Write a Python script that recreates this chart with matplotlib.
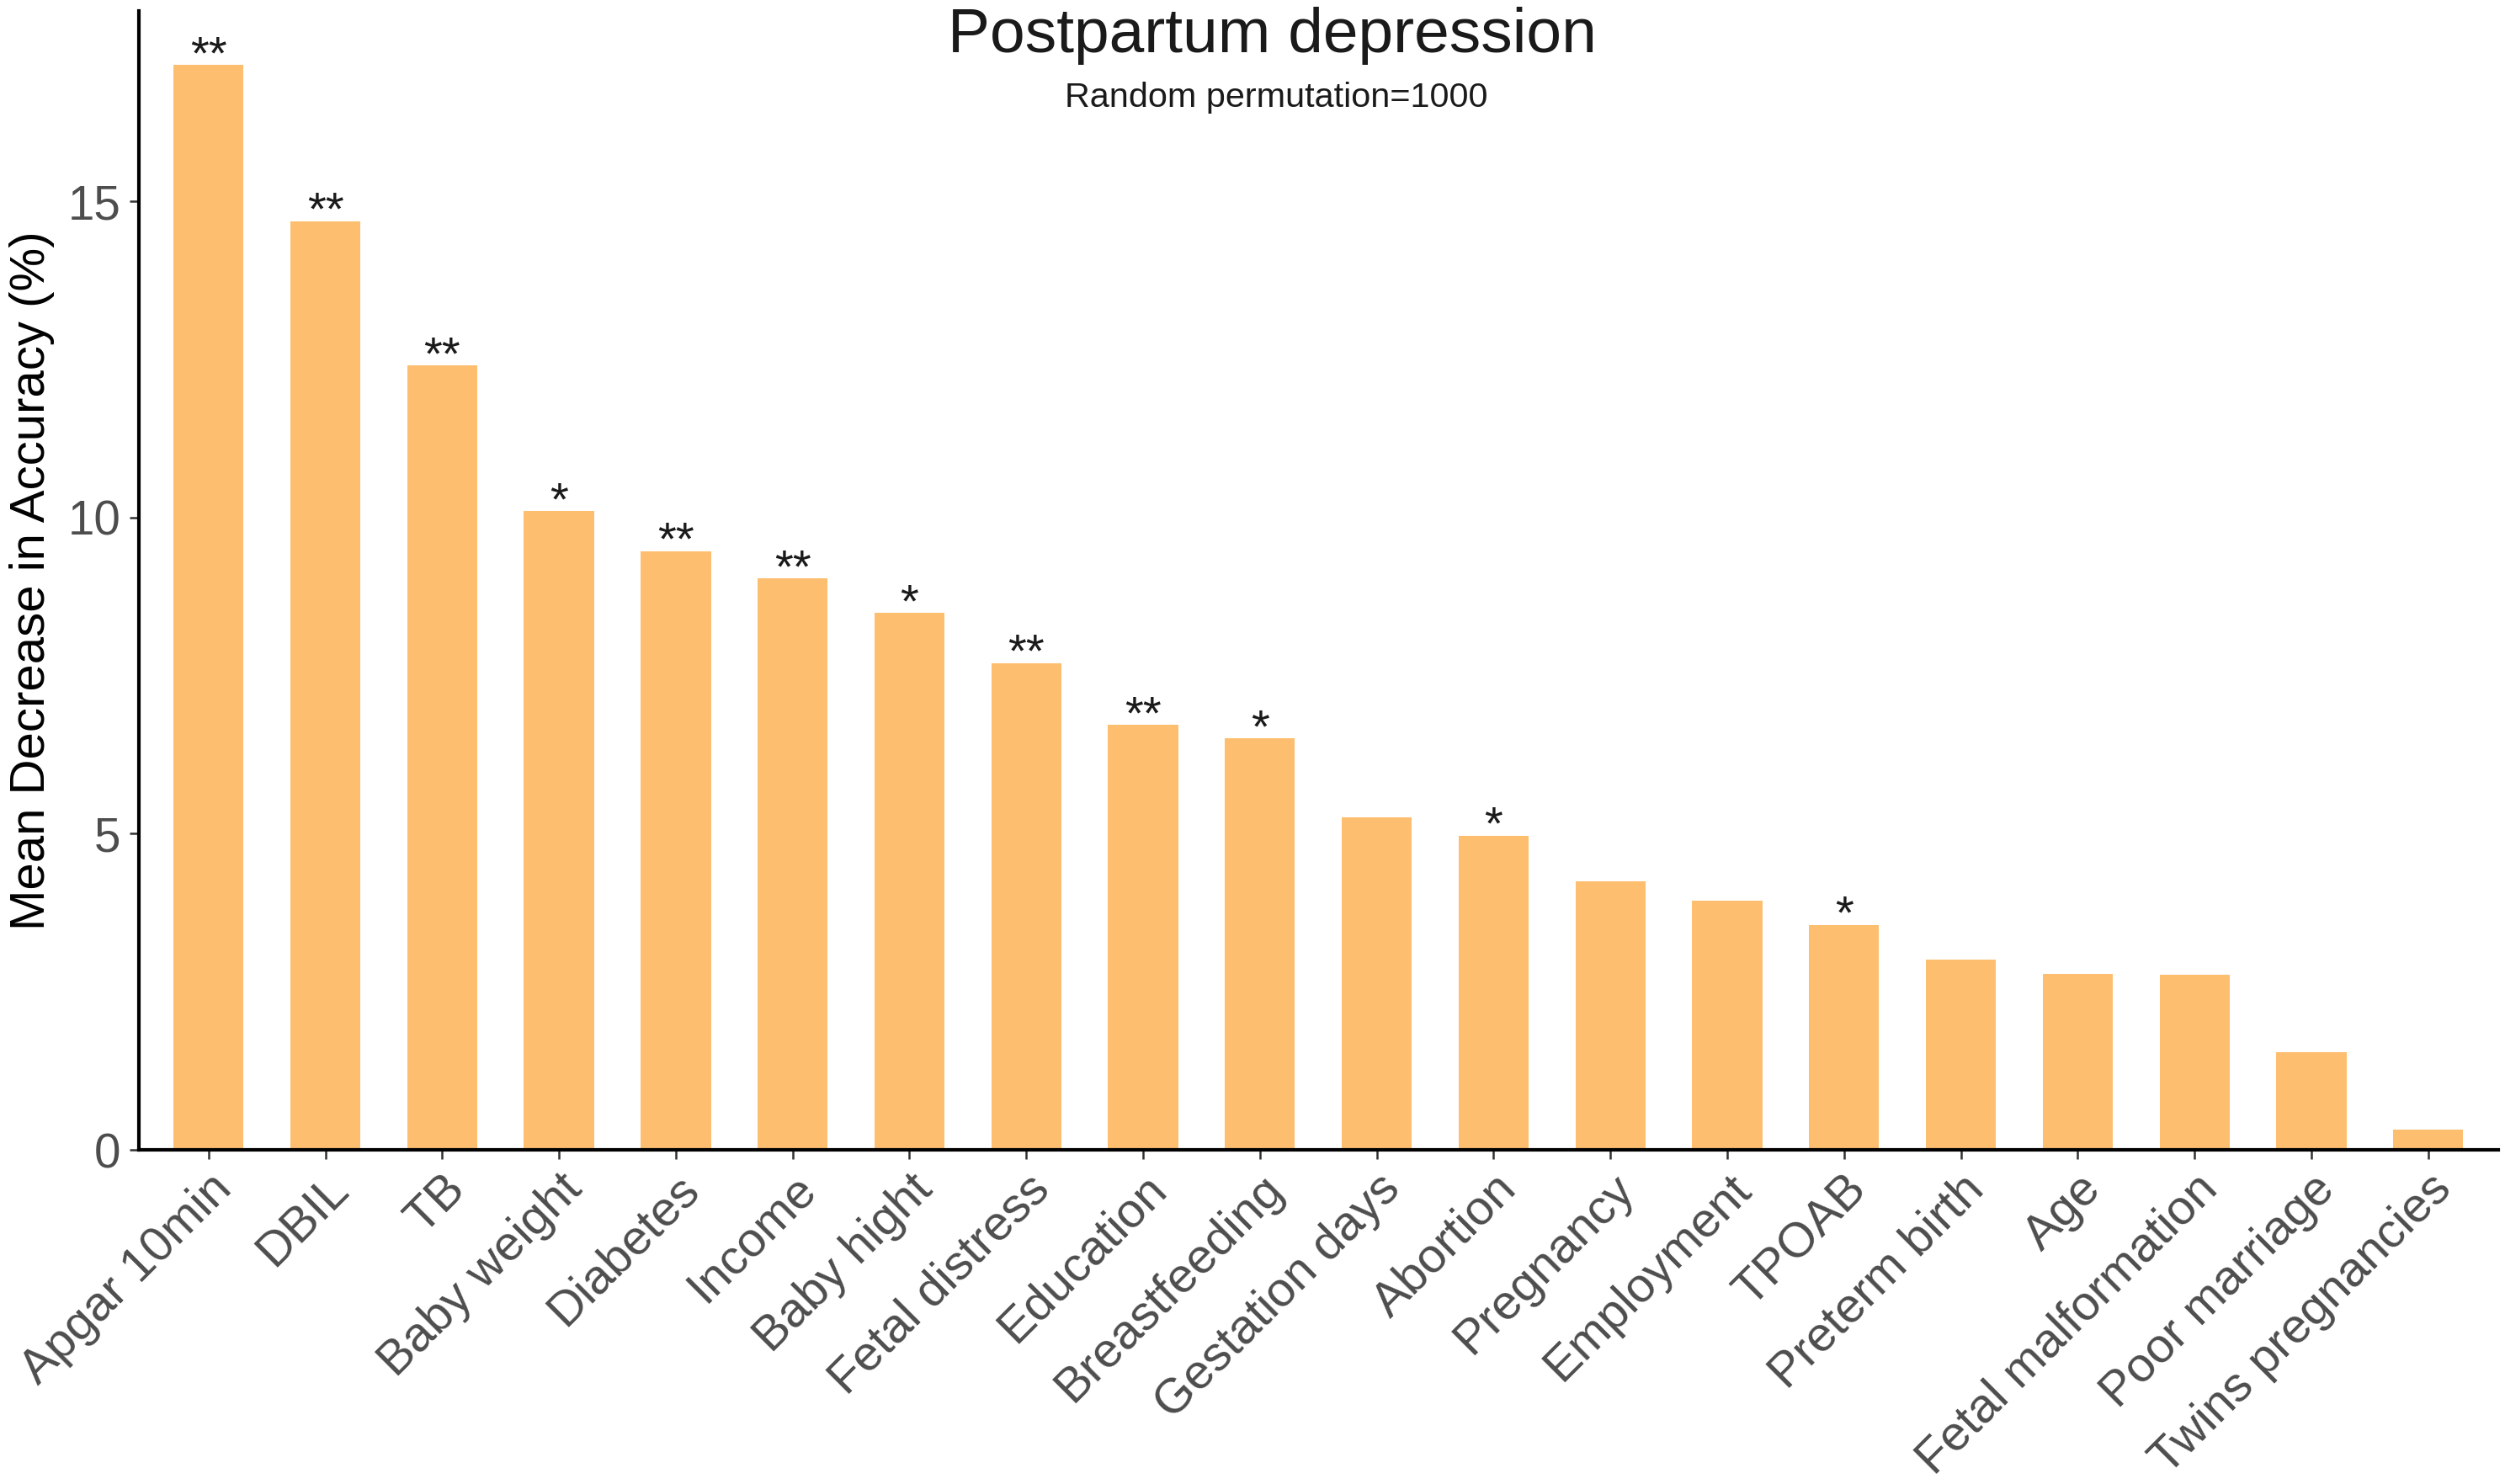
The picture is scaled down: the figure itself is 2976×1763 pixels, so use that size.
import matplotlib
matplotlib.use("Agg")
import matplotlib.pyplot as plt

plt.rcParams['font.family'] = ['Liberation Sans', 'DejaVu Sans']

categories = ["Apgar 10min", "DBIL", "TB", "Baby weight", "Diabetes", "Income",
              "Baby hight", "Fetal distress", "Education", "Breastfeeding",
              "Gestation days", "Abortion", "Pregnancy", "Employment", "TPOAB",
              "Preterm birth", "Age", "Fetal malformation", "Poor marriage",
              "Twins pregnancies"]
values = [17.16, 14.69, 12.41, 10.10, 9.47, 9.04, 8.49, 7.70, 6.72, 6.51,
          5.26, 4.97, 4.25, 3.94, 3.56, 3.01, 2.78, 2.77, 1.54, 0.32]
signif = ["**", "**", "**", "*", "**", "**", "*", "**", "**", "*",
          "", "*", "", "", "*", "", "", "", "", ""]
yticks = [0, 5, 10, 15]

W, H = 2976, 1763
fig = plt.figure(figsize=(W / 300, H / 300), dpi=300)
left, right, bottom, top = 164.5, 2968, 1366, 12.5
ax = fig.add_axes([left / W, 1 - bottom / H, (right - left) / W, (bottom - top) / H])

x = list(range(len(categories)))
ax.bar(x, values, width=0.6, color="#FDBF6F", edgecolor="none", zorder=2)
for xi, v, s in zip(x, values, signif):
    if s:
        ax.annotate(s, (xi, v), xytext=(0, -1.0), textcoords="offset points",
                    ha="center", va="baseline", fontsize=13.5, color="#1a1a1a")

ax.set_xlim(-0.6, len(categories) - 0.4)
ax.set_ylim(0, 18.02)
ax.set_yticks(yticks)
ax.set_yticklabels([str(t) for t in yticks])
ax.set_xticks(x)
ax.set_xticklabels(categories, rotation=45, ha="right", va="top",
                   rotation_mode="anchor")

for sp in ["top", "right"]:
    ax.spines[sp].set_visible(False)
for sp in ["left", "bottom"]:
    ax.spines[sp].set_linewidth(1.0)
    ax.spines[sp].set_color("black")

ax.tick_params(axis="both", colors="#333333", length=2.6, width=0.6,
               labelcolor="#4D4D4D")
ax.tick_params(axis="y", pad=2.4, labelsize=13.6)
ax.tick_params(axis="x", pad=2.0, labelsize=13.9)

fig.text(38 / W, 1 - 690 / H, "Mean Decrease in Accuracy (%)", rotation=90,
         ha="center", va="center", fontsize=13.95, color="black")
fig.text(1511 / W, 1 - 62 / H, "Postpartum depression", ha="center",
         va="baseline", fontsize=18.0, color="#1a1a1a")
fig.text(1516 / W, 1 - 126.7 / H, "Random permutation=1000", ha="center",
         va="baseline", fontsize=9.95, color="#1a1a1a")

fig.savefig("out.png", dpi=300)
